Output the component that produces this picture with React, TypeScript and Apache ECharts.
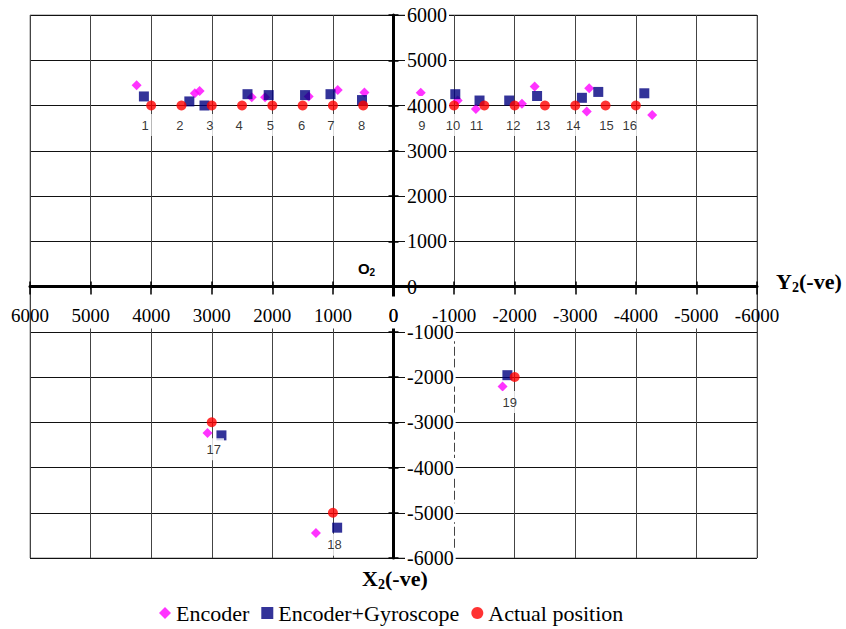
import React, { useEffect, useRef } from 'react';
import * as echarts from 'echarts';

// ---- data ----
const pointNumbers = ['1', '2', '3', '4', '5', '6', '7', '8', '9', '10', '11', '12', '13', '14', '15', '16', '17', '18', '19'];
const actualX = [4000, 3500, 3000, 2500, 2000, 1500, 1000, 500, -500, -1000, -1500, -2000, -2500, -3000, -3500, -4000, 3000, 1000, -2000];
const actualY = [4000, 4000, 4000, 4000, 4000, 4000, 4000, 4000, 4000, 4000, 4000, 4000, 4000, 4000, 4000, 4000, -3000, -5000, -2000];
const encoderX = [4240, 3280, 3200, 2340, 2120, 1400, 920, 480, -450, -1060, -1360, -2120, -2330, -3190, -3230, -4270, 3070, 1280, -1800];
const encoderY = [4450, 4270, 4320, 4180, 4180, 4200, 4340, 4290, 4280, 4110, 3920, 4040, 4420, 3870, 4380, 3790, -3240, -5450, -2210];
const gyroX = [4120, 3370, 3120, 2410, 2060, 1460, 1040, 520, -1020, -1420, -1910, -2370, -3110, -3380, -4140, 2840, 930, -1880];
const gyroY = [4200, 4090, 4000, 4250, 4230, 4230, 4250, 4120, 4250, 4110, 4110, 4210, 4170, 4300, 4270, -3290, -5330, -1960];
const seriesNames = ['Encoder', 'Encoder+Gyroscope', 'Actual position'];
const axisMin = -6000;
const axisMax = 6000;
const axisStep = 1000;
const originLabel = '0';

// label placement (pixels) relative to each actual-position point
const labelOffsets: [number, number][] = [
  [-6, 19.5], [-1.5, 19.5], [-2, 19.5], [-3, 19.5], [-2, 19.5], [-1, 19.5], [-2, 19.5], [-1.5, 19.5],
  [-2, 19.5], [-1, 19.5], [-8, 19.5], [-1.5, 19.5], [-2, 19.5], [-2, 19.5], [1, 19.5], [-6, 19.5],
  [2, 27], [1.5, 32], [-5, 25],
];

const SERIF = 'Liberation Serif';
const SANS = 'Liberation Sans';

const GRID = { left: 30, top: 15, width: 727, height: 543 };

function buildOption() {
  const encoderData = encoderX.map((x, i) => [x, encoderY[i]]);
  const gyroData = gyroX.map((x, i) => [x, gyroY[i]]);
  const actualData = actualX.map((x, i) => ({
    value: [x, actualY[i]],
    name: pointNumbers[i],
    label: { offset: labelOffsets[i] },
  }));

  // move the axes onto the zero lines (axes cross in the middle of the plot)
  const xAxisOffset = -GRID.height * (0 - axisMin) / (axisMax - axisMin);
  const yAxisOffset = -GRID.width * (axisMax - 0) / (axisMax - axisMin);
  const zeroX = GRID.left - yAxisOffset;
  const zeroY = GRID.top + GRID.height + xAxisOffset;

  const common = { type: 'value' as const, min: axisMin, max: axisMax, interval: axisStep };
  const fmt = (v: number) => String(v);

  return {
    animation: false,
    backgroundColor: '#fff',
    textStyle: { fontFamily: SERIF, color: '#000' },
    grid: {
      ...GRID,
      show: true, borderColor: '#8c8c8c', borderWidth: 1, backgroundColor: '#fff',
    },
    xAxis: [
      {
        ...common, inverse: true, position: 'bottom', offset: xAxisOffset, z: 0,
        axisLine: { show: false, onZero: false },
        axisTick: { show: true, inside: true, length: 5, lineStyle: { color: '#000', width: 1.5 } },
        axisLabel: { show: false },
        splitLine: { show: true, lineStyle: { color: '#444', width: 1 } },
      },
      {
        ...common, inverse: true, position: 'bottom', offset: xAxisOffset, z: 4,
        axisLine: { show: true, onZero: false, lineStyle: { color: '#000', width: 3 } },
        axisTick: { show: true, inside: false, length: 8, lineStyle: { color: '#000', width: 1.5 } },
        axisLabel: {
          show: true, margin: 23, color: '#000', fontFamily: SERIF, fontSize: 19, lineHeight: 12, formatter: fmt,
          hideOverlap: false, showMinLabel: true, showMaxLabel: true,
        },
        splitLine: { show: false },
      },
    ],
    yAxis: [
      {
        ...common, position: 'left', offset: yAxisOffset, z: 0,
        axisLine: { show: false, onZero: false },
        axisTick: { show: true, inside: true, length: 5, lineStyle: { color: '#000', width: 1.5 } },
        axisLabel: { show: false },
        splitLine: { show: true, lineStyle: { color: '#111', width: 1 } },
      },
      {
        ...common, position: 'left', offset: yAxisOffset, z: 3,
        axisLine: { show: true, onZero: false, lineStyle: { color: '#000', width: 3 } },
        axisTick: { show: true, inside: false, length: 5, lineStyle: { color: '#000', width: 1.5 } },
        axisLabel: {
          show: true, inside: true, margin: 11.5, color: '#000', fontFamily: SERIF, fontSize: 20, lineHeight: 16, formatter: fmt,
          hideOverlap: false, showMinLabel: true, showMaxLabel: true,
          backgroundColor: '#fff', padding: [3, 2, 0, 2],
        },
        splitLine: { show: false },
      },
    ],
    legend: {
      data: seriesNames,
      left: 154, top: 597,
      itemWidth: 12, itemHeight: 12, itemGap: 12,
      textStyle: { fontFamily: SERIF, fontSize: 22, color: '#000' },
    },
    graphic: [
      // white band under the x-axis tick labels (the gridlines stop there)
      { type: 'rect', z: 1, silent: true, shape: { x: GRID.left + 1, y: zeroY + 3, width: GRID.width - 2, height: 39 }, style: { fill: '#fff' } },
      // the origin's x label box also interrupts the vertical axis line
      { type: 'rect', z: 3.5, silent: true, shape: { x: zeroX - 7, y: zeroY + 10, width: 14, height: 32 }, style: { fill: '#fff' } },
      { type: 'text', x: zeroX, y: zeroY + 29, z: 10, style: { text: originLabel, font: `19px "${SERIF}"`, lineHeight: 12, fill: '#000', textAlign: 'center', textVerticalAlign: 'middle' } },
      { type: 'text', x: 358, y: 268, z: 10, style: { text: 'O', font: `bold 15px "${SANS}"`, fill: '#000', textVerticalAlign: 'middle' } },
      { type: 'text', x: 369.5, y: 272.5, z: 10, style: { text: '2', font: `bold 10px "${SANS}"`, fill: '#000', textVerticalAlign: 'middle' } },
      { type: 'text', x: 776, y: 281, z: 10, style: { text: 'Y', font: `bold 22px "${SERIF}"`, fill: '#000', textVerticalAlign: 'middle' } },
      { type: 'text', x: 792, y: 287, z: 10, style: { text: '2', font: `bold 14px "${SERIF}"`, fill: '#000', textVerticalAlign: 'middle' } },
      { type: 'text', x: 799, y: 281, z: 10, style: { text: '(-ve)', font: `bold 22px "${SERIF}"`, fill: '#000', textVerticalAlign: 'middle' } },
      { type: 'text', x: 362, y: 578, z: 10, style: { text: 'X', font: `bold 22px "${SERIF}"`, fill: '#000', textVerticalAlign: 'middle' } },
      { type: 'text', x: 378, y: 584, z: 10, style: { text: '2', font: `bold 14px "${SERIF}"`, fill: '#000', textVerticalAlign: 'middle' } },
      { type: 'text', x: 385, y: 578, z: 10, style: { text: '(-ve)', font: `bold 22px "${SERIF}"`, fill: '#000', textVerticalAlign: 'middle' } },
    ],
    series: [
      {
        name: seriesNames[0], type: 'scatter', xAxisIndex: 0, yAxisIndex: 0,
        symbol: 'diamond', symbolSize: 10, itemStyle: { color: '#FF00FF' },
        data: encoderData,
        markLine: {
          silent: true, symbol: 'none', label: { show: false },
          lineStyle: { color: '#fff', width: 2, type: [3, 9] },
          data: [[{ coord: [-axisStep, -axisStep] }, { coord: [-axisStep, axisMin] }]],
        },
      },
      {
        name: seriesNames[1], type: 'scatter', xAxisIndex: 0, yAxisIndex: 0,
        symbol: 'rect', symbolSize: 10, itemStyle: { color: '#000080' },
        data: gyroData,
      },
      {
        name: seriesNames[2], type: 'scatter', xAxisIndex: 0, yAxisIndex: 0,
        symbol: 'circle', symbolSize: 10, itemStyle: { color: '#FF0000' },
        label: {
          show: true, position: 'inside', formatter: '{b}', color: '#000',
          fontFamily: SANS, fontSize: 13, backgroundColor: '#fff', padding: [5, 3, 4, 3],
        },
        data: actualData,
      },
    ],
  };
}

export default function App() {
  const ref = useRef<HTMLDivElement>(null);
  useEffect(() => {
    if (!ref.current) return;
    const chart = echarts.init(ref.current, null, { renderer: 'svg' });
    chart.setOption(buildOption() as any);
    return () => chart.dispose();
  }, []);
  return (
    <div
      ref={ref}
      style={{ position: 'fixed', left: 0, top: 0, width: 846, height: 629, background: '#fff' }}
    />
  );
}
